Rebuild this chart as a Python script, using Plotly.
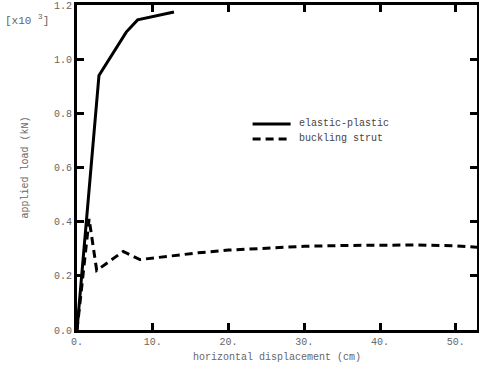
import plotly.graph_objects as go

ep_x = [0, 2.9, 6.5, 8.0, 12.8]
ep_y = [0, 0.94, 1.10, 1.145, 1.174]

bs_x = [0, 1.6, 2.6, 6.1, 8.3, 12, 16, 20, 25, 30, 35, 40, 45, 50, 53]
bs_y = [0, 0.41, 0.22, 0.29, 0.26, 0.272, 0.285, 0.295, 0.303, 0.309, 0.312, 0.314, 0.314, 0.311, 0.305]

x_ticks = [0, 10, 20, 30, 40, 50]
x_labels = ["0.", "10.", "20.", "30.", "40.", "50."]
y_ticks = [0, 0.2, 0.4, 0.6, 0.8, 1.0, 1.2]
y_labels = ["0.0", "0.2", "0.4", "0.6", "0.8", "1.0", "1.2"]

names = ["elastic-plastic", "buckling strut"]
dashes = ["solid", "8px,5px"]

font = "Liberation Mono, Courier New, monospace"
grey = "#666666"

fig = go.Figure()
fig.add_trace(go.Scatter(x=ep_x, y=ep_y, mode="lines", name=names[0],
                         line=dict(color="black", width=3, dash=dashes[0]), showlegend=False))
fig.add_trace(go.Scatter(x=bs_x, y=bs_y, mode="lines", name=names[1],
                         line=dict(color="black", width=3, dash=dashes[1]), showlegend=False))

axis_common = dict(showgrid=False, zeroline=False, showline=True, linecolor="black",
                   linewidth=3, mirror="ticks", ticks="inside", ticklen=7,
                   tickwidth=3, tickcolor="black",
                   tickfont=dict(family=font, size=10, color=grey))

fig.update_xaxes(range=[0, 52.8], tickvals=x_ticks, ticktext=x_labels,
                 title=dict(text="horizontal displacement (cm)",
                            font=dict(family=font, size=10, color=grey), standoff=6),
                 **axis_common)
fig.update_yaxes(range=[0, 1.2], tickvals=y_ticks, ticktext=y_labels,
                 title=dict(text="applied load (kN)",
                            font=dict(family=font, size=10, color=grey), standoff=24),
                 **axis_common)

fig.add_annotation(text="[x10 <sup>3</sup>]", xref="paper", yref="paper",
                   x=-0.185, y=0.955, xanchor="left", yanchor="middle", showarrow=False,
                   font=dict(family=font, size=11, color=grey))

# manual legend
leg_y = [0.634, 0.588]
for name, dash, ly in zip(names, dashes, leg_y):
    fig.add_shape(type="line", xref="paper", yref="paper", x0=0.439, x1=0.534,
                  y0=ly, y1=ly, line=dict(color="black", width=3, dash=dash))
    fig.add_annotation(text=name, xref="paper", yref="paper", x=0.551, y=ly,
                       xanchor="left", yanchor="middle", showarrow=False,
                       font=dict(family=font, size=10, color="#444444"))

fig.update_layout(
    width=479, height=368,
    margin=dict(l=77, r=2, t=5, b=38, autoexpand=False),
    plot_bgcolor="white", paper_bgcolor="white",
    showlegend=False,
)

fig.write_html("out.html", config={"displayModeBar": False},
               post_script="document.body.style.margin='0';")
